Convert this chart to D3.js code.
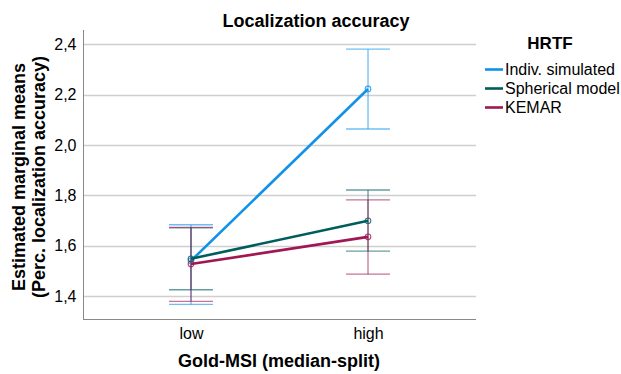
<!DOCTYPE html>
<html>
<head>
<meta charset="utf-8">
<script src="https://cdn.jsdelivr.net/npm/d3@7"></script>
<style>
  html, body { margin: 0; padding: 0; background: #fff; }
  svg text { font-family: "Liberation Sans", Arial, sans-serif; fill: #000; }
</style>
</head>
<body>
<svg id="chart" width="621" height="374"></svg>
<script>
// Estimated marginal means with 95% CI per HRTF condition
const categories = ["low", "high"];
const seriesNames = ["Indiv. simulated", "Spherical model", "KEMAR"];
const means = [
  [1.540, 2.222],
  [1.548, 1.699],
  [1.527, 1.635]
];
const ciLower = [
  [1.367, 2.063],
  [1.425, 1.578],
  [1.379, 1.487]
];
const ciUpper = [
  [1.683, 2.380],
  [1.671, 1.821],
  [1.673, 1.782]
];
const yTicks = [1.4, 1.6, 1.8, 2.0, 2.2, 2.4];
const colors = ["#1192e8", "#005d5d", "#9f1853"];

const svg = d3.select("#chart");
const plot = { left: 83, right: 476, top: 30, bottom: 319 };

const x = d3.scalePoint().domain(categories).range([plot.left, plot.right]).padding(0.61);
const y = d3.scaleLinear().domain([1.309, 2.456]).range([plot.bottom, plot.top]);

// gridlines
svg.append("g").selectAll("line").data(yTicks).join("line")
  .attr("x1", plot.left).attr("x2", plot.right)
  .attr("y1", d => Math.round(y(d)) + 0.5).attr("y2", d => Math.round(y(d)) + 0.5)
  .attr("stroke", "#cfcfcf").attr("stroke-width", 1.3);

// y axis
const yAxis = svg.append("g").attr("transform", `translate(${plot.left + 0.5},0)`)
  .call(d3.axisLeft(y).tickValues(yTicks).tickSize(0).tickPadding(7)
    .tickFormat(d => d3.format(".1f")(d).replace(".", ",")));
yAxis.select(".domain").remove();
yAxis.selectAll("text").attr("font-size", 16).attr("fill", "#000");

// x axis
const xAxis = svg.append("g").attr("transform", `translate(0,${plot.bottom})`)
  .call(d3.axisBottom(x).tickSize(0).tickPadding(9));
xAxis.select(".domain").remove();
xAxis.selectAll("text").attr("font-size", 16).attr("fill", "#000");

// axis lines
svg.append("line").attr("x1", plot.left + 0.5).attr("x2", plot.left + 0.5)
  .attr("y1", plot.top).attr("y2", plot.bottom + 0.5).attr("stroke", "#888").attr("stroke-width", 1);
svg.append("line").attr("x1", plot.left).attr("x2", plot.right)
  .attr("y1", plot.bottom + 0.5).attr("y2", plot.bottom + 0.5).attr("stroke", "#888").attr("stroke-width", 1);

// error bars
const capHalf = 22;
seriesNames.forEach((name, s) => {
  const g = svg.append("g").attr("stroke", colors[s]).attr("stroke-opacity", 0.6).attr("stroke-width", 1.3);
  categories.forEach((c, i) => {
    const cx = x(c);
    g.append("line").attr("x1", cx).attr("x2", cx)
      .attr("y1", y(ciLower[s][i])).attr("y2", y(ciUpper[s][i]));
    g.append("line").attr("x1", cx - capHalf).attr("x2", cx + capHalf)
      .attr("y1", y(ciUpper[s][i])).attr("y2", y(ciUpper[s][i]));
    g.append("line").attr("x1", cx - capHalf).attr("x2", cx + capHalf)
      .attr("y1", y(ciLower[s][i])).attr("y2", y(ciLower[s][i]));
  });
});

// mean lines and markers
const line = d3.line().x((d, i) => x(categories[i])).y(d => y(d));
seriesNames.forEach((name, s) => {
  svg.append("path").datum(means[s]).attr("d", line)
    .attr("fill", "none").attr("stroke", colors[s]).attr("stroke-width", 2.6);
  svg.append("g").selectAll("circle").data(means[s]).join("circle")
    .attr("cx", (d, i) => x(categories[i])).attr("cy", d => y(d)).attr("r", 2.8)
    .attr("fill", "none").attr("stroke", colors[s]).attr("stroke-opacity", 0.8).attr("stroke-width", 1.1);
});

// titles
svg.append("text").attr("x", 316).attr("y", 26.5).attr("text-anchor", "middle")
  .attr("font-size", 18).attr("font-weight", "bold").text("Localization accuracy");
svg.append("text").attr("x", 279).attr("y", 366.5).attr("text-anchor", "middle")
  .attr("font-size", 18).attr("font-weight", "bold").text("Gold-MSI (median-split)");
const yt = svg.append("text").attr("transform", "translate(0,177) rotate(-90)")
  .attr("text-anchor", "middle").attr("font-size", 18).attr("font-weight", "bold");
yt.append("tspan").attr("x", 0).attr("y", 24.5).text("Estimated marginal means");
yt.append("tspan").attr("x", 0).attr("y", 45).text("(Perc. localization accuracy)");

// legend
const lg = svg.append("g");
lg.append("text").attr("x", 550).attr("y", 49).attr("text-anchor", "middle")
  .attr("font-size", 17).attr("font-weight", "bold").text("HRTF");
seriesNames.forEach((name, s) => {
  const ly = 69.5 + s * 19;
  lg.append("line").attr("x1", 485).attr("x2", 503).attr("y1", ly).attr("y2", ly)
    .attr("stroke", colors[s]).attr("stroke-width", 2.6);
  lg.append("text").attr("x", 505).attr("y", ly + 5.5).attr("font-size", 16).text(name);
});
</script>
</body>
</html>
